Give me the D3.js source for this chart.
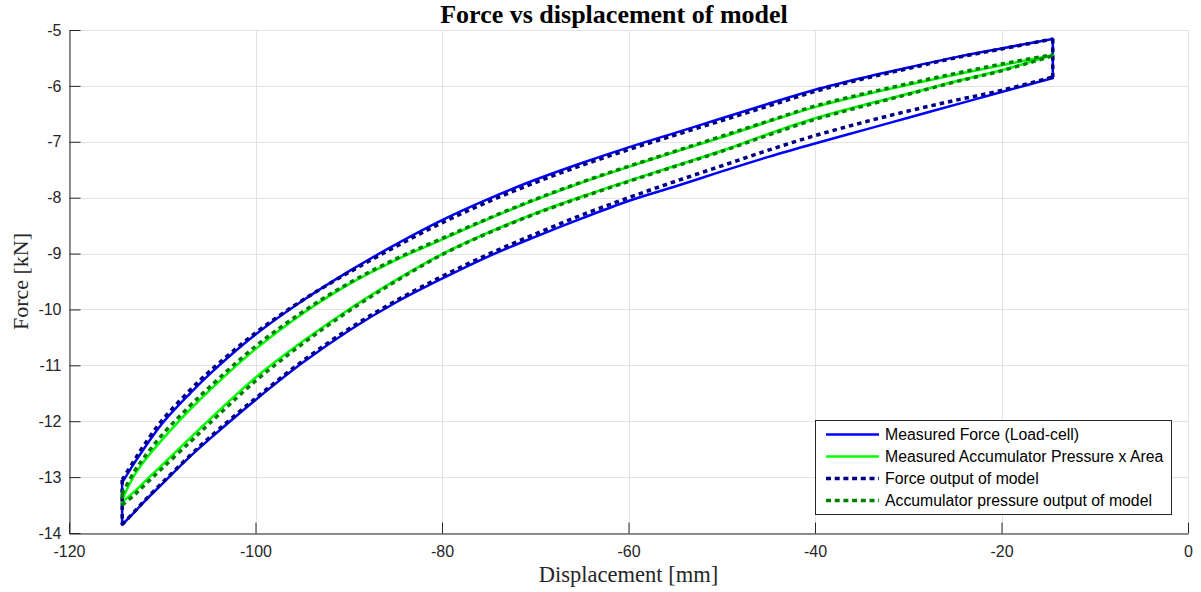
<!DOCTYPE html>
<html lang="en">
<head>
<meta charset="utf-8">
<title>Force vs displacement of model</title>
<script src="https://d3js.org/d3.v7.min.js"></script>
<style>
  body { margin: 0; background: #fff; }
  #chart svg { display: block; }
</style>
</head>
<body>
<div id="chart"></div>
<script>
// displacement grid [mm], shared by every branch
const disp = [-114.3, -113, -112, -110, -107, -105, -100, -95, -90, -85, -80, -75,
              -70, -65, -60, -55, -50, -45, -40, -35, -30, -25, -20, -14.5];

// measured force (load cell) [kN]
const forceUp   = [-13.10, -12.75, -12.50, -12.04, -11.50, -11.17, -10.45, -9.85, -9.32, -8.84, -8.40, -8.02,
                   -7.68, -7.38, -7.10, -6.84, -6.58, -6.32, -6.07, -5.86, -5.67, -5.49, -5.33, -5.16];
const forceDown = [-13.85, -13.63, -13.45, -13.12, -12.63, -12.33, -11.62, -10.96, -10.38, -9.88, -9.45, -9.05,
                   -8.70, -8.37, -8.06, -7.80, -7.53, -7.27, -7.03, -6.80, -6.57, -6.34, -6.11, -5.86];

// measured accumulator pressure x area [kN]
const accUp     = [-13.40, -12.97, -12.73, -12.33, -11.79, -11.46, -10.71, -10.08, -9.55, -9.12, -8.75, -8.38,
                   -8.04, -7.73, -7.45, -7.18, -6.92, -6.64, -6.38, -6.17, -5.98, -5.80, -5.63, -5.45];
const accDown   = [-13.45, -13.26, -13.10, -12.78, -12.30, -11.98, -11.22, -10.58, -10.00, -9.48, -9.01, -8.62,
                   -8.28, -7.98, -7.70, -7.43, -7.16, -6.86, -6.58, -6.35, -6.14, -5.92, -5.72, -5.45];

// model outputs [kN]
const modelForceUp   = [-13.05, -12.70, -12.44, -11.98, -11.44, -11.12, -10.42, -9.84, -9.34, -8.88, -8.45, -8.07,
                        -7.73, -7.42, -7.14, -6.88, -6.62, -6.36, -6.10, -5.88, -5.69, -5.50, -5.34, -5.16];
const modelForceDown = [-13.85, -13.62, -13.44, -13.10, -12.61, -12.30, -11.59, -10.93, -10.35, -9.85, -9.41, -9.01,
                        -8.65, -8.31, -8.00, -7.71, -7.43, -7.15, -6.89, -6.66, -6.45, -6.26, -6.08, -5.84];
const modelAccUp     = [-13.30, -12.90, -12.66, -12.24, -11.72, -11.40, -10.66, -10.05, -9.53, -9.10, -8.73, -8.37,
                        -8.03, -7.72, -7.44, -7.17, -6.90, -6.63, -6.36, -6.15, -5.96, -5.78, -5.61, -5.44];
const modelAccDown   = [-13.50, -13.32, -13.16, -12.84, -12.37, -12.05, -11.28, -10.62, -10.03, -9.50, -9.02, -8.63,
                        -8.29, -7.99, -7.71, -7.44, -7.17, -6.88, -6.60, -6.37, -6.15, -5.93, -5.73, -5.46];

const xTicks = [-120, -100, -80, -60, -40, -20, 0];
const yTicks = [-14, -13, -12, -11, -10, -9, -8, -7, -6, -5];

const seriesNames = ["Measured Force (Load-cell)", "Measured Accumulator Pressure x Area",
                     "Force output of model", "Accumulator pressure output of model"];

const width = 1201, height = 592;
const margin = {top: 30, right: 13, bottom: 59, left: 69};
const axisColor = "#262626";

const svg = d3.select("#chart").append("svg")
    .attr("width", width)
    .attr("height", height);

const x = d3.scaleLinear().domain([-120, 0]).range([margin.left, width - margin.right]);
const y = d3.scaleLinear().domain([-14, -5]).range([height - margin.bottom, margin.top]);

// grid
const grid = svg.append("g").attr("stroke", "#e3e3e3").attr("stroke-width", 1);
grid.selectAll(".gx").data(xTicks).join("line")
    .attr("x1", d => Math.round(x(d)) + 0.5).attr("x2", d => Math.round(x(d)) + 0.5)
    .attr("y1", y(-14)).attr("y2", y(-5));
grid.selectAll(".gy").data(yTicks).join("line")
    .attr("y1", d => Math.round(y(d)) + 0.5).attr("y2", d => Math.round(y(d)) + 0.5)
    .attr("x1", x(-120)).attr("x2", x(0));

// axes
const fmt = d => String(d);
const gx = svg.append("g")
    .attr("transform", `translate(0,${Math.round(y(-14)) + 0.5})`)
    .call(d3.axisBottom(x).tickValues(xTicks).tickFormat(fmt)
      .tickSizeInner(-11).tickSizeOuter(0).tickPadding(12));
const gy = svg.append("g")
    .attr("transform", `translate(${Math.round(x(-120)) + 0.5},0)`)
    .call(d3.axisLeft(y).tickValues(yTicks).tickFormat(fmt)
      .tickSizeInner(-11).tickSizeOuter(0).tickPadding(8));
[gx, gy].forEach(g => {
  g.selectAll("path, line").attr("stroke", axisColor);
  g.selectAll("text").attr("fill", axisColor)
    .style("font-family", "'Liberation Sans', Arial, sans-serif").style("font-size", "16px");
});

// lines
const branch = d3.line().x(d => x(d[0])).y(d => y(d[1])).curve(d3.curveCatmullRom.alpha(0.5));
const straight = d3.line().x(d => x(d[0])).y(d => y(d[1]));
const plot = svg.append("g");

function drawLoop(up, down, color, w, dash) {
  const n = disp.length - 1;
  const parts = [
    branch(disp.map((d, i) => [d, up[i]])),
    branch(disp.map((d, i) => [d, down[i]])),
    straight([[disp[0], up[0]], [disp[0], down[0]]]),
    straight([[disp[n], up[n]], [disp[n], down[n]]])
  ];
  parts.forEach(p => {
    plot.append("path").attr("d", p)
      .attr("fill", "none").attr("stroke", color).attr("stroke-width", w)
      .attr("stroke-linecap", dash ? "butt" : "round")
      .attr("stroke-linejoin", "round")
      .attr("stroke-dasharray", dash || null);
  });
}

const styles = [
  {color: "#0000ff", w: 2.5, dash: null},
  {color: "#00ff00", w: 2.5, dash: null},
  {color: "#000080", w: 3.5, dash: "4.5,4"},
  {color: "#008000", w: 3.5, dash: "4.5,4"}
];

drawLoop(forceUp, forceDown, styles[0].color, styles[0].w, styles[0].dash);
drawLoop(accUp, accDown, styles[1].color, styles[1].w, styles[1].dash);
drawLoop(modelForceUp, modelForceDown, styles[2].color, styles[2].w, styles[2].dash);
drawLoop(modelAccUp, modelAccDown, styles[3].color, styles[3].w, styles[3].dash);

// title and labels
const serif = "'Liberation Serif', 'Times New Roman', serif";
svg.append("text")
    .attr("x", 614).attr("y", 23)
    .attr("text-anchor", "middle")
    .style("font-family", serif).style("font-size", "26px").style("font-weight", "bold")
    .attr("fill", "#000")
    .text("Force vs displacement of model");
svg.append("text")
    .attr("x", (x(-120) + x(0)) / 2).attr("y", 582)
    .attr("text-anchor", "middle")
    .style("font-family", serif).style("font-size", "22.5px")
    .attr("fill", axisColor)
    .text("Displacement [mm]");
svg.append("text")
    .attr("transform", `translate(28,${(y(-14) + y(-5)) / 2}) rotate(-90)`)
    .attr("text-anchor", "middle")
    .style("font-family", serif).style("font-size", "22px")
    .attr("fill", axisColor)
    .text("Force [kN]");

// legend
const legend = svg.append("g").attr("transform", "translate(815,420)");
legend.append("rect")
    .attr("x", 0.5).attr("y", 0.5).attr("width", 356).attr("height", 94)
    .attr("fill", "#fff").attr("stroke", axisColor).attr("stroke-width", 1);
seriesNames.forEach((name, i) => {
  const cy = 14.5 + i * 22;
  legend.append("line")
    .attr("x1", 11).attr("x2", 64).attr("y1", cy).attr("y2", cy)
    .attr("stroke", styles[i].color).attr("stroke-width", styles[i].w)
    .attr("stroke-dasharray", styles[i].dash ? "5,3.7" : null);
  legend.append("text")
    .attr("x", 70).attr("y", cy).attr("dy", "0.35em")
    .style("font-family", "'Liberation Sans', Arial, sans-serif").style("font-size", "15.8px")
    .attr("fill", "#000")
    .text(name);
});
</script>
</body>
</html>
